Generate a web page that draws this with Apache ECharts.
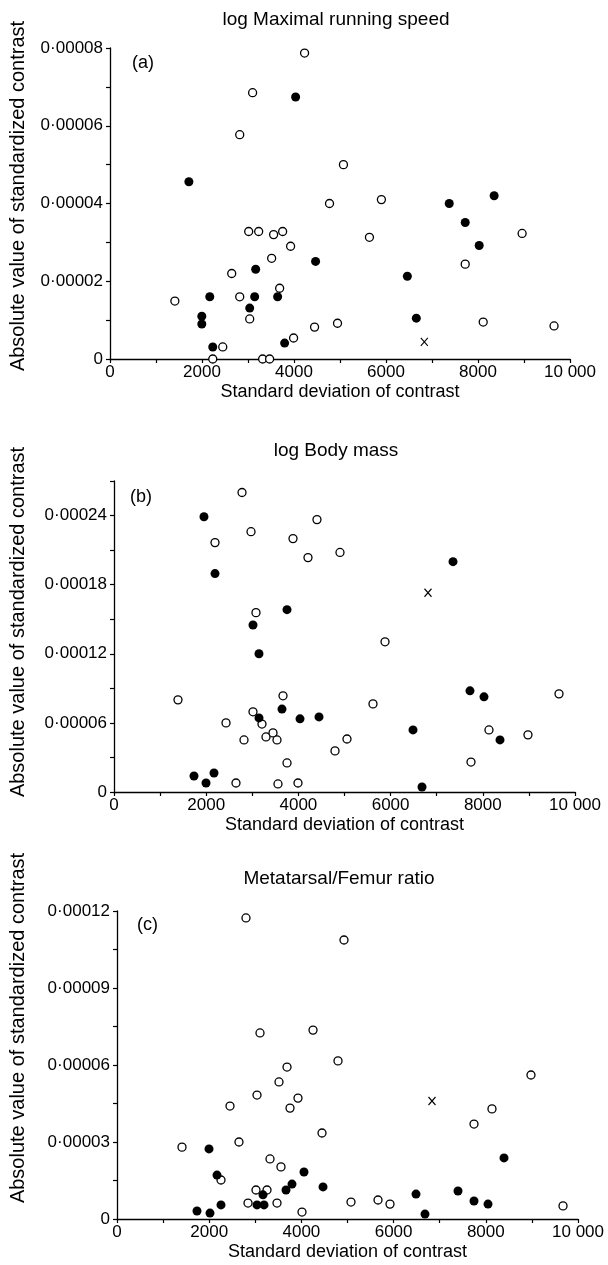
<!DOCTYPE html>
<html>
<head>
<meta charset="utf-8">
<script src="https://cdn.jsdelivr.net/npm/echarts@6/dist/echarts.min.js"></script>
<style>
    html, body { margin: 0; padding: 0; background: #fff; }
    #chart { width: 608px; height: 1265px; }
</style>
</head>
<body>
<div id="chart"></div>
<script type="text/javascript">

    // panel titles
    var panelTitles = ['log Maximal running speed', 'log Body mass', 'Metatarsal/Femur ratio'];
    var panelLetters = ['(a)', '(b)', '(c)'];

    // [standard deviation of contrast, absolute standardized contrast]
    // (a) log maximal running speed
    var speedOpen = [[4230,7.87e-5],[3100,6.85e-5],[2820,5.77e-5],[5075,5.0e-5],[4772,4.0e-5],[5900,4.1e-5],
        [3015,3.28e-5],[3232,3.28e-5],[3557,3.2e-5],[3753,3.28e-5],[3926,2.9e-5],[3514,2.59e-5],[2646,2.2e-5],
        [3688,1.82e-5],[2820,1.6e-5],[1410,1.49e-5],[3037,1.03e-5],[4447,0.82e-5],[4946,0.92e-5],[3991,0.54e-5],
        [2451,0.31e-5],[2234,0],[3318,0],[3470,0],[5640,3.13e-5],[8959,3.23e-5],[7722,2.44e-5],[8113,0.95e-5],[9653,0.85e-5]];
    var speedFilled = [[4035,6.74e-5],[1715,4.56e-5],[4469,2.51e-5],[3167,2.31e-5],[2169,1.6e-5],[3145,1.6e-5],
        [3644,1.6e-5],[3037,1.31e-5],[1996,1.1e-5],[1996,0.9e-5],[3796,0.41e-5],[2234,0.31e-5],[7375,4.0e-5],
        [8351,4.2e-5],[7722,3.51e-5],[8026,2.92e-5],[6464,2.13e-5],[6659,1.05e-5]];
    var speedCross = [[6833,0.44e-5]];

    // (b) log body mass
    var massOpen = [[2777,26.0e-5],[4403,23.65e-5],[2972,22.6e-5],[2191,21.65e-5],[3883,22.0e-5],[4208,20.35e-5],
        [4902,20.8e-5],[3080,15.57e-5],[1388,8.0e-5],[3666,8.35e-5],[3015,6.96e-5],[3210,5.9e-5],[2430,6.0e-5],
        [3297,4.78e-5],[3449,5.13e-5],[3536,4.52e-5],[2820,4.52e-5],[4794,3.57e-5],[5054,4.6e-5],[3753,2.52e-5],
        [2646,0.78e-5],[3557,0.7e-5],[3991,0.78e-5],[5879,13.04e-5],[9653,8.52e-5],[5618,7.65e-5],[8134,5.39e-5],
        [8980,4.96e-5],[7744,2.6e-5]];
    var massFilled = [[1952,23.9e-5],[2191,18.96e-5],[3753,15.83e-5],[7354,20.0e-5],[3015,14.5e-5],[3145,12.0e-5],
        [3644,7.2e-5],[3145,6.43e-5],[4035,6.35e-5],[4447,6.52e-5],[1735,1.39e-5],[2169,1.65e-5],[1996,0.78e-5],
        [7722,8.78e-5],[8026,8.26e-5],[6486,5.39e-5],[8373,4.52e-5],[6681,0.43e-5]];
    var massCross = [[6811,17.3e-5]];

    // (c) metatarsal/femur ratio
    var ratioOpen = [[2798,11.73e-5],[4924,10.87e-5],[3102,7.25e-5],[4252,7.36e-5],[4794,6.16e-5],[3688,5.92e-5],
        [3514,5.34e-5],[3037,4.83e-5],[3926,4.71e-5],[2451,4.4e-5],[3753,4.32e-5],[4447,3.35e-5],[2646,3.0e-5],
        [1410,2.8e-5],[3319,2.34e-5],[3557,2.03e-5],[2256,1.52e-5],[3015,1.13e-5],[3254,1.13e-5],[2842,0.62e-5],
        [3471,0.62e-5],[4013,0.27e-5],[5076,0.66e-5],[8980,5.61e-5],[8134,4.29e-5],[7744,3.7e-5],[5662,0.74e-5],
        [5922,0.58e-5],[9675,0.51e-5]];
    var ratioFilled = [[1996,2.73e-5],[2169,1.71e-5],[4056,1.83e-5],[3796,1.36e-5],[3666,1.13e-5],[4469,1.25e-5],
        [3167,0.94e-5],[3037,0.55e-5],[3189,0.55e-5],[2256,0.55e-5],[1735,0.31e-5],[2017,0.23e-5],[8395,2.38e-5],
        [6486,0.97e-5],[7397,1.09e-5],[7744,0.7e-5],[8048,0.58e-5],[6681,0.19e-5]];
    var ratioCross = [[6833,4.6e-5]];

    // y axis ranges per panel
    var yMax = [8e-5, 27e-5, 12e-5];
    var yInterval = [1e-5, 3e-5, 1.5e-5];
    var yLabelStep = [2e-5, 6e-5, 3e-5];

    var FONT = '"Liberation Sans", Arial, sans-serif';
    var grids = [
        { left: 110, top: 48, width: 460, height: 311 },
        { left: 114, top: 481, width: 461, height: 311 },
        { left: 117, top: 911, width: 461, height: 308 }
    ];

    function yLabel(step) {
        return function (v) {
            var k = v / step;
            if (Math.abs(k - Math.round(k)) > 1e-6) return '';
            if (v === 0) return '0';
            return v.toFixed(5).replace('.', '\u00b7');
        };
    }
    function xLabel(v) {
        if (v >= 10000) return String(v).replace(/\B(?=(\d{3})+(?!\d))/g, ' ');
        return String(v);
    }

    var axisLineStyle = { color: '#000', width: 1.3 };
    var xAxes = [], yAxes = [], titles = [], series = [], graphics = [];
    var dataSets = [
        [speedOpen, speedFilled, speedCross],
        [massOpen, massFilled, massCross],
        [ratioOpen, ratioFilled, ratioCross]
    ];
    var titleTops = [5, 436, 864];
    var titleCenters = [331, 331, 334];
    var letterPos = [[127, 49], [125, 483], [132, 911]];
    // vertical centre of each rotated y title
    var yNameCenters = [196, 622, 1028];

    for (var i = 0; i < 3; i++) {
        xAxes.push({
            gridIndex: i, type: 'value', min: 0, max: 10000, interval: 1000,
            name: 'Standard deviation of contrast', nameLocation: 'middle', nameGap: 24,
            nameTextStyle: { color: '#000', fontFamily: FONT, fontSize: 18 },
            axisLine: { lineStyle: axisLineStyle },
            axisTick: { show: true, length: 4, lineStyle: { color: '#000', width: 1.2 } },
            axisLabel: {
                color: '#000', fontFamily: FONT, fontSize: 17, margin: 5,
                formatter: function (v) { return v % 2000 === 0 ? xLabel(v) : ''; }
            },
            splitLine: { show: false }
        });
        yAxes.push({
            gridIndex: i, type: 'value', min: 0, max: yMax[i], interval: yInterval[i],
            axisLine: { lineStyle: axisLineStyle },
            axisTick: { show: true, length: 4, lineStyle: { color: '#000', width: 1.2 } },
            axisLabel: { color: '#000', fontFamily: FONT, fontSize: 17, margin: 7, formatter: yLabel(yLabelStep[i]) },
            splitLine: { show: false }
        });
        titles.push({
            text: panelTitles[i], left: titleCenters[i], top: titleTops[i], textAlign: 'center',
            textStyle: { color: '#000', fontFamily: FONT, fontSize: 19, fontWeight: 'normal' }
        });
        titles.push({
            text: panelLetters[i], left: letterPos[i][0], top: letterPos[i][1],
            textStyle: { color: '#000', fontFamily: FONT, fontSize: 18, fontWeight: 'normal' }
        });
        graphics.push({
            type: 'text', x: 18, y: yNameCenters[i], rotation: Math.PI / 2,
            style: {
                text: 'Absolute value of standardized contrast', fill: '#000',
                font: '20px ' + FONT, align: 'center', verticalAlign: 'middle'
            }
        });

        series.push({
            type: 'scatter', xAxisIndex: i, yAxisIndex: i, data: dataSets[i][0],
            symbol: 'circle', symbolSize: 8,
            itemStyle: { color: '#fff', borderColor: '#000', borderWidth: 1.3, opacity: 1 }
        });
        series.push({
            type: 'scatter', xAxisIndex: i, yAxisIndex: i, data: dataSets[i][1],
            symbol: 'circle', symbolSize: 9,
            itemStyle: { color: '#000', opacity: 1 }
        });
        series.push({
            type: 'scatter', xAxisIndex: i, yAxisIndex: i, data: dataSets[i][2],
            symbol: 'path://M0,0L10,12M10,0L0,12', symbolSize: [7, 8],
            itemStyle: { color: 'none', borderColor: '#000', borderWidth: 1.2, opacity: 1 }
        });
    }

    var myChart = echarts.init(document.getElementById('chart'));
    myChart.setOption({
        animation: false,
        backgroundColor: '#fff',
        title: titles,
        grid: grids,
        xAxis: xAxes,
        yAxis: yAxes,
        graphic: graphics,
        series: series
    });

</script>
</body>
</html>
